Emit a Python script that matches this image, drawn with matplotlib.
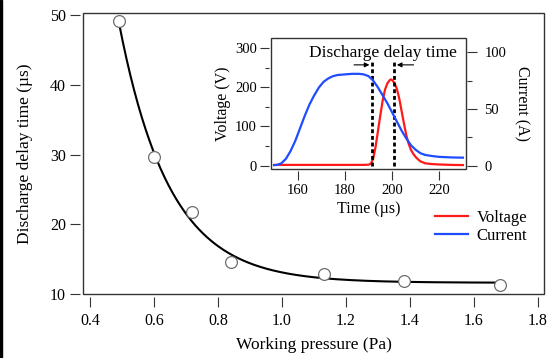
import numpy as np
import matplotlib
matplotlib.use('Agg')
import matplotlib.pyplot as plt
from matplotlib.patches import Rectangle

plt.rcParams['font.family'] = ['Liberation Serif', 'DejaVu Serif']
plt.rcParams['mathtext.fontset'] = 'stix'

# main plot: delay time vs pressure
pressure = np.array([0.49, 0.60, 0.72, 0.84, 1.13, 1.38, 1.68])
delay = np.array([49.1, 29.6, 21.7, 14.6, 12.8, 11.8, 11.3])

# inset: voltage / current waveforms
t_volt = [150, 160, 170, 180, 188, 190, 191, 192, 193, 194, 195, 196, 197, 198, 199,
          199.5, 200, 201, 202, 203, 204, 205, 206, 207, 208, 209, 210, 211, 212,
          214, 217, 220, 225, 230]
voltage = [2, 2, 2, 2, 2, 2.5, 5, 18, 48, 88, 128, 166, 194, 210, 218,
           220, 218, 211, 196, 172, 140, 108, 78, 56, 40, 30, 22, 16, 11,
           6, 4, 3, 2, 1.5]
t_curr = [150, 151, 153, 155, 157, 159, 161, 163, 165, 167, 169, 171, 173, 175, 177,
          180, 183, 186, 188, 190, 192, 194, 196, 198, 200, 202, 204, 206, 208,
          210, 212, 214, 217, 220, 225, 230]
current = [0.5, 0.6, 2, 6, 13, 22, 33, 44, 54, 62, 69, 74, 77, 79, 80,
           80.5, 81, 81, 80.5, 79, 75, 69, 62, 55, 47, 39, 31, 24, 18,
           14, 11, 9.5, 8.5, 7.8, 7.3, 7.1]
marks = [191.4, 201.0]

# exponential decay fit to the measured points
best = None
for tau in np.linspace(0.03, 0.6, 571):
    basis = np.column_stack([np.ones_like(pressure), np.exp(-(pressure - pressure[0]) / tau)])
    coef = np.linalg.lstsq(basis, delay, rcond=None)[0]
    sse = ((basis @ coef - delay) ** 2).sum()
    if best is None or sse < best[0]:
        best = (sse, tau, coef)
_, tau, coef = best
p_fit = np.linspace(pressure.min(), pressure.max(), 300)
d_fit = coef[0] + coef[1] * np.exp(-(p_fit - pressure[0]) / tau)

W, H = 551, 358
fig = plt.figure(figsize=(W / 100, H / 100), dpi=100)
frame_c = '#333333'


def style_axes(ax, sides, length, offset, minor_len=None):
    for s in ['left', 'right', 'top', 'bottom']:
        ax.spines[s].set_color('none')
        if s in sides:
            ax.spines[s].set_position(('outward', offset))
    ax.tick_params(which='major', direction='out', length=length, width=0.8, color=frame_c)
    if minor_len:
        ax.tick_params(which='minor', direction='out', length=minor_len, width=0.8, color=frame_c)


ax = fig.add_axes([83 / W, 1 - 294 / H, 461 / W, 281 / H])
ax.plot(p_fit, d_fit, color='black', lw=1.5, zorder=2)
ax.plot(pressure, delay, 'o', ms=8.5, mfc='white', mec='#6e6e6e', mew=0.9, zorder=3)
ax.set_xlim(0.378, 1.819)
ax.set_ylim(10, 50.3)
ax.set_xticks(np.arange(0.4, 1.81, 0.2))
ax.set_yticks([10, 20, 30, 40, 50])
ax.set_xticklabels([f'{v:.1f}' for v in np.arange(0.4, 1.81, 0.2)])
style_axes(ax, ['left', 'bottom'], 7.5, 2.2)
ax.tick_params(labelsize=11.5, pad=2.5)
ax.tick_params(axis='x', pad=4)
ax.add_patch(Rectangle((0, 0), 1, 1, transform=ax.transAxes, fill=False,
                       lw=1, ec=frame_c, clip_on=False, zorder=5))
ax.set_xlabel('Working pressure (Pa)', fontsize=12.5, labelpad=6)
ax.set_ylabel('Discharge delay time (µs)', fontsize=12.5, labelpad=12)

# inset
ins = fig.add_axes([271 / W, 1 - 169 / H, 195 / W, 131 / H])
ins2 = ins.twinx()
lv, = ins.plot(t_volt, voltage, color='#ff1a1a', lw=1.6, label='Voltage')
lc, = ins2.plot(t_curr, current, color='#1f4cff', lw=1.6, label='Current')
for m in marks:
    ins.plot([m, m], [0, 266], color='black', lw=2, dashes=(1.4, 1.0))
ins.annotate('', xy=(190.4, 257), xytext=(183.9, 257),
             arrowprops=dict(arrowstyle='-|>', color='black', lw=0.8,
                             mutation_scale=7, shrinkA=0, shrinkB=0))
ins.annotate('', xy=(202.0, 257), xytext=(209.1, 257),
             arrowprops=dict(arrowstyle='-|>', color='black', lw=0.8,
                             mutation_scale=7, shrinkA=0, shrinkB=0))
ins.text(196.2, 287, 'Discharge delay time', ha='center', va='center', fontsize=12.5)
ins.set_xlim(148.7, 231.3)
ins.set_ylim(-8.5, 325.5)
ins2.set_ylim(-2.9, 112.6)
ins.set_xticks([160, 180, 200, 220])
ins.set_yticks([0, 100, 200, 300])
ins.set_yticks([50, 150, 250], minor=True)
ins2.set_yticks([0, 50, 100])
ins2.set_yticks([25, 75], minor=True)
style_axes(ins, ['left', 'bottom'], 6.8, 1.3, 3.2)
ins.spines['bottom'].set_position(('outward', 1.7))
style_axes(ins2, ['right'], 7.5, 0.7, 3.5)
ins.tick_params(labelsize=10.5, pad=2)
ins2.tick_params(labelsize=10.5, pad=5)
ins.tick_params(axis='x', which='minor', length=0)
ins2.tick_params(axis='x', which='both', length=0)
ins.add_patch(Rectangle((0, 0), 1, 1, transform=ins.transAxes, fill=False,
                        lw=1, ec=frame_c, clip_on=False, zorder=5))
ins.set_xlabel('Time (µs)', fontsize=11.5, labelpad=3)
ins.set_ylabel('Voltage (V)', fontsize=11.5, labelpad=3)
ins2.set_ylabel('Current (A)', fontsize=11.5, rotation=-90, labelpad=17)

fig.legend(handles=[lv, lc], loc='center left', bbox_to_anchor=(435 / W, 1 - 227 / H),
           frameon=False, fontsize=12, handlelength=2.0, handletextpad=0.5,
           labelspacing=0.15, borderpad=0, borderaxespad=0)

# dark strip on the left edge of the original image
fig.patches.append(Rectangle((0, 0), 2 / W, 1, transform=fig.transFigure,
                             color='black', zorder=10))

fig.savefig('out.png', dpi=100)
